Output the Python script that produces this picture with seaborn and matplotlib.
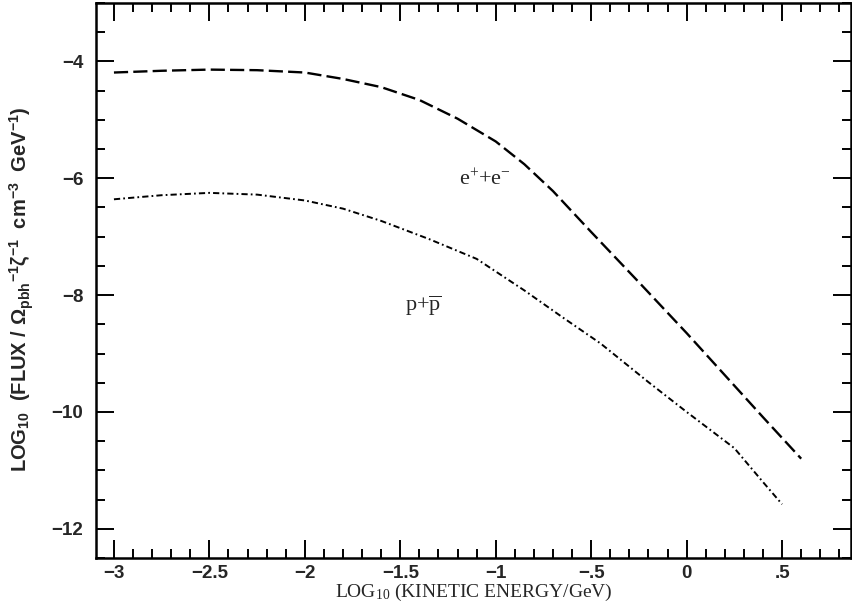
import matplotlib
matplotlib.use("Agg")
import matplotlib.pyplot as plt
from matplotlib.ticker import MultipleLocator
import seaborn as sns
import pandas as pd

# ---- data ----
ee_x = [-3.0, -2.75, -2.5, -2.25, -2.0, -1.8, -1.6, -1.4, -1.2, -1.0, -0.85,
        -0.7, -0.5, -0.25, 0.0, 0.2, 0.4, 0.6]
ee_y = [-4.19, -4.16, -4.14, -4.15, -4.19, -4.30, -4.44, -4.66, -4.98, -5.37,
        -5.76, -6.22, -6.92, -7.78, -8.65, -9.37, -10.09, -10.80]
pp_x = [-3.0, -2.75, -2.5, -2.25, -2.0, -1.8, -1.6, -1.35, -1.1, -0.85, -0.65,
        -0.45, -0.2, 0.0, 0.25, 0.4, 0.5]
pp_y = [-6.36, -6.29, -6.25, -6.28, -6.38, -6.52, -6.73, -7.04, -7.38, -7.92,
        -8.38, -8.83, -9.49, -10.0, -10.62, -11.2, -11.58]

xtick_vals = [-3, -2.5, -2, -1.5, -1, -0.5, 0, 0.5]
xtick_labels = ["\u22123", "\u22122.5", "\u22122", "\u22121.5", "\u22121", "\u2212.5", "0", ".5"]
ytick_vals = [-12, -10, -8, -6, -4]
ytick_labels = ["\u221212", "\u221210", "\u22128", "\u22126", "\u22124"]

sns.set_style("ticks")
plt.rcParams["font.family"] = ["Liberation Sans", "DejaVu Sans"]
plt.rcParams["mathtext.fontset"] = "custom"
plt.rcParams["mathtext.rm"] = "Liberation Serif"
plt.rcParams["mathtext.it"] = "Liberation Serif:italic"
plt.rcParams["mathtext.bf"] = "Liberation Sans:bold"

df_ee = pd.DataFrame({"x": ee_x, "y": ee_y, "s": "ee"})
df_pp = pd.DataFrame({"x": pp_x, "y": pp_y, "s": "pp"})

fig = plt.figure(figsize=(8.52, 6.12), dpi=100)
ax = fig.add_axes([96 / 852, 1 - 558 / 612, (851 - 96) / 852, (558 - 3) / 612])

sns.lineplot(data=df_ee, x="x", y="y", style="s", dashes={"ee": (6, 2.2)},
             color="black", linewidth=1.7, legend=False, estimator=None,
             sort=False, ax=ax)
sns.lineplot(data=df_pp, x="x", y="y", style="s",
             dashes={"pp": (3.2, 1.6, 0.9, 1.6)},
             color="black", linewidth=1.4, legend=False, estimator=None,
             sort=False, ax=ax)

ax.set_xlim(-3.094, 0.861)
ax.set_ylim(-12.5, -3.0)

ax.set_xticks(xtick_vals)
ax.set_xticklabels(xtick_labels, fontsize=13.5, fontweight="bold")
ax.set_yticks(ytick_vals)
ax.set_yticklabels(ytick_labels, fontsize=13.5, fontweight="bold")
ax.xaxis.set_minor_locator(MultipleLocator(0.1))
ax.yaxis.set_minor_locator(MultipleLocator(0.5))
ax.tick_params(which="both", direction="in", top=True, right=True,
               color="black", width=1.4)
ax.tick_params(which="major", length=13)
ax.tick_params(axis="y", which="major", pad=9)
ax.tick_params(axis="x", which="major", pad=5)
ax.tick_params(which="minor", length=6.5)
for sp in ax.spines.values():
    sp.set_linewidth(1.8)
    sp.set_color("black")

ax.set_xlabel(r"LOG$_{10}$ (KINETIC ENERGY/GeV)", fontsize=14,
              family="Liberation Serif", labelpad=0)
ax.set_ylabel(r"LOG$_{\mathbf{10}}$  (FLUX / $\mathbf{\Omega_{pbh}}^{\mathbf{-1}}\mathbf{\zeta^{-1}}$  cm$^{\mathbf{-3}}$  GeV$^{\mathbf{-1}}$)",
              fontsize=14.5, fontweight="bold", va="center")
ax.yaxis.set_label_coords(-0.098, 0.485)

ax.text(-1.19, -6.02, r"e$^{+}$+e$^{-}$", fontsize=16, family="Liberation Serif",
        ha="left", va="center")
ax.text(-1.476, -8.18, r"p+$\overline{\rm p}$", fontsize=16, family="Liberation Serif",
        ha="left", va="center")

fig.savefig("out.png", dpi=100)
